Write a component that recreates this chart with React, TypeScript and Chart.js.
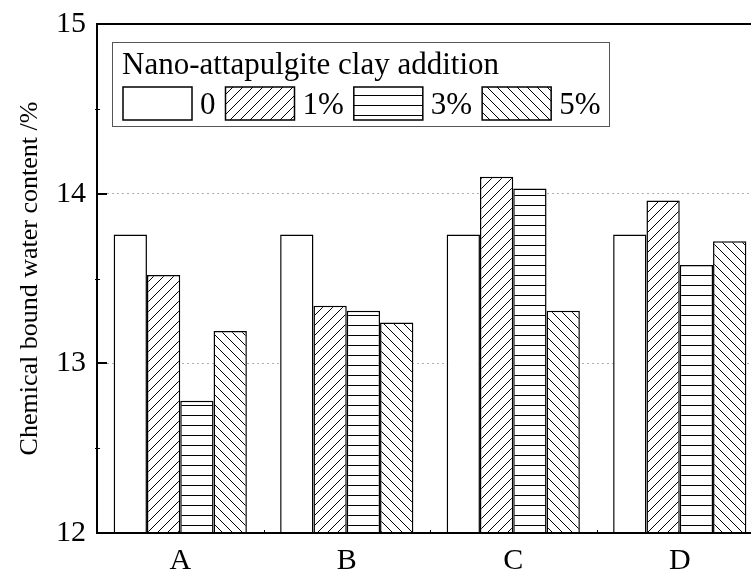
import React, { useEffect, useRef } from "react";
import { Chart, registerables } from "chart.js";

Chart.register(...registerables);

const categories = ["A", "B", "C", "D"];
const series0 = [13.76, 13.76, 13.76, 13.76];
const series1 = [13.52, 13.34, 14.1, 13.96];
const series3 = [12.78, 13.31, 14.03, 13.58];
const series5 = [13.19, 13.24, 13.31, 13.72];
const seriesLabels = ["0", "1%", "3%", "5%"];
const legendTitle = "Nano-attapulgite clay addition";
const yAxisTitle = "Chemical bound water content /%";
const yMin = 12;
const yMax = 15;
const majorTicks = [13, 14];
const minorTicks = [12.5, 13.5, 14.5];

const FONT = "'Liberation Serif', 'Times New Roman', serif";

function makePattern(kind: string): CanvasPattern | string {
  if (kind === "none") return "#ffffff";
  const s = 10;
  const c = document.createElement("canvas");
  c.width = s;
  c.height = s;
  const g = c.getContext("2d")!;
  g.fillStyle = "#ffffff";
  g.fillRect(0, 0, s, s);
  g.strokeStyle = "#000000";
  g.lineWidth = 1;
  g.beginPath();
  if (kind === "fwd") {
    g.moveTo(-1, s + 1);
    g.lineTo(s + 1, -1);
    g.moveTo(-1, 1);
    g.lineTo(1, -1);
    g.moveTo(s - 1, s + 1);
    g.lineTo(s + 1, s - 1);
  } else if (kind === "back") {
    g.moveTo(-1, -1);
    g.lineTo(s + 1, s + 1);
    g.moveTo(s - 1, -1);
    g.lineTo(s + 1, 1);
    g.moveTo(-1, s - 1);
    g.lineTo(1, s + 1);
  } else if (kind === "horiz") {
    g.moveTo(0, 5.5);
    g.lineTo(s, 5.5);
  }
  g.stroke();
  const ctx = document.createElement("canvas").getContext("2d")!;
  return ctx.createPattern(c, "repeat")!;
}

export default function App() {
  const ref = useRef<HTMLCanvasElement | null>(null);

  useEffect(() => {
    if (!ref.current) return;
    const fills = [makePattern("none"), makePattern("fwd"), makePattern("horiz"), makePattern("back")];
    const values = [series0, series1, series3, series5];

    const decorPlugin = {
      id: "decor",
      afterDraw(chart: any) {
        const ctx = chart.ctx as CanvasRenderingContext2D;
        const area = chart.chartArea;
        const ys = chart.scales.y;
        const xs = chart.scales.x;
        ctx.save();
        // frame lines (drawn over bars)
        ctx.strokeStyle = "#000";
        ctx.lineWidth = 2;
        ctx.beginPath();
        ctx.moveTo(area.left - 1, area.top);
        ctx.lineTo(area.right, area.top);
        ctx.lineTo(area.right, area.bottom);
        ctx.moveTo(area.left - 1, area.bottom);
        ctx.lineTo(area.right, area.bottom);
        ctx.moveTo(area.left, area.top);
        ctx.lineTo(area.left, area.bottom + 1);
        ctx.stroke();
        // inward major ticks
        for (const v of majorTicks) {
          const y = Math.round(ys.getPixelForValue(v));
          ctx.beginPath();
          ctx.moveTo(area.left, y);
          ctx.lineTo(area.left + 10, y);
          ctx.stroke();
        }
        ctx.lineWidth = 1;
        for (const v of minorTicks) {
          const y = Math.round(ys.getPixelForValue(v)) + 0.5;
          ctx.beginPath();
          ctx.moveTo(area.left - 2, y);
          ctx.lineTo(area.left + 3, y);
          ctx.stroke();
        }
        // category boundary ticks on bottom axis
        for (let i = 1; i < categories.length; i++) {
          const x = Math.round((xs.getPixelForValue(i - 1) + xs.getPixelForValue(i)) / 2) + 0.5;
          ctx.beginPath();
          ctx.moveTo(x, area.bottom);
          ctx.lineTo(x, area.bottom - 3);
          ctx.stroke();
        }
        // legend
        const bx = 112.5, by = 42.5, bw = 497, bh = 84;
        ctx.fillStyle = "#fff";
        ctx.fillRect(bx, by, bw, bh);
        ctx.strokeStyle = "#555";
        ctx.lineWidth = 1;
        ctx.strokeRect(bx, by, bw, bh);
        ctx.fillStyle = "#000";
        ctx.font = `31px ${FONT}`;
        ctx.textBaseline = "alphabetic";
        ctx.textAlign = "left";
        ctx.fillText(legendTitle, 122, 74);
        let x = 123;
        const boxW = 69, boxH = 33, boxY = 87;
        for (let i = 0; i < seriesLabels.length; i++) {
          ctx.fillStyle = fills[i] as any;
          ctx.fillRect(x, boxY, boxW, boxH);
          ctx.strokeStyle = "#000";
          ctx.lineWidth = 1.5;
          ctx.strokeRect(x, boxY, boxW, boxH);
          x += boxW + 8;
          ctx.fillStyle = "#000";
          ctx.fillText(seriesLabels[i], x, 114);
          x += ctx.measureText(seriesLabels[i]).width + 10;
        }
        ctx.restore();
      },
    };

    const chart = new Chart(ref.current, {
      type: "bar",
      data: {
        labels: categories,
        datasets: values.map((arr, i) => ({
          label: seriesLabels[i],
          data: arr,
          backgroundColor: fills[i] as any,
          borderColor: "#000",
          borderWidth: 1.5,
          borderSkipped: false,
          barPercentage: 1,
          categoryPercentage: 0.8,
        })),
      },
      options: {
        responsive: false,
        animation: false,
        devicePixelRatio: 1,
        layout: { padding: { top: 24, right: 37, left: 0, bottom: 0 } },
        plugins: {
          legend: { display: false },
          tooltip: { enabled: false },
        },
        scales: {
          x: {
            grid: { display: false, drawTicks: false },
            border: { display: false },
            ticks: { color: "#000", font: { family: FONT, size: 30 }, padding: 10 },
            afterFit(scale: any) {
              scale.height = 41;
              scale.paddingLeft = 0;
              scale.paddingRight = 0;
            },
          },
          y: {
            min: yMin,
            max: yMax,
            ticks: {
              stepSize: 1,
              color: "#000",
              font: { family: FONT, size: 30 },
              padding: 11,
            },
            grid: {
              drawTicks: false,
              color: (c: any) => (majorTicks.includes(c.tick?.value) ? "#b0b0b0" : "rgba(0,0,0,0)"),
              lineWidth: 1,
            },
            border: { display: false, dash: [2, 3] },
            title: {
              display: true,
              text: yAxisTitle,
              color: "#000",
              font: { family: FONT, size: 26 },
              padding: { top: 15, bottom: 0 },
            },
            afterFit(scale: any) {
              scale.width = 97;
              scale.paddingTop = 0;
              scale.paddingBottom = 0;
            },
          },
        },
      },
      plugins: [decorPlugin],
    });
    return () => chart.destroy();
  }, []);

  return (
    <div style={{ position: "fixed", left: 0, top: 0, width: 751, height: 574, overflow: "hidden", background: "#fff" }}>
      <canvas ref={ref} width={800} height={574} style={{ display: "block", width: 800, height: 574 }} />
    </div>
  );
}
